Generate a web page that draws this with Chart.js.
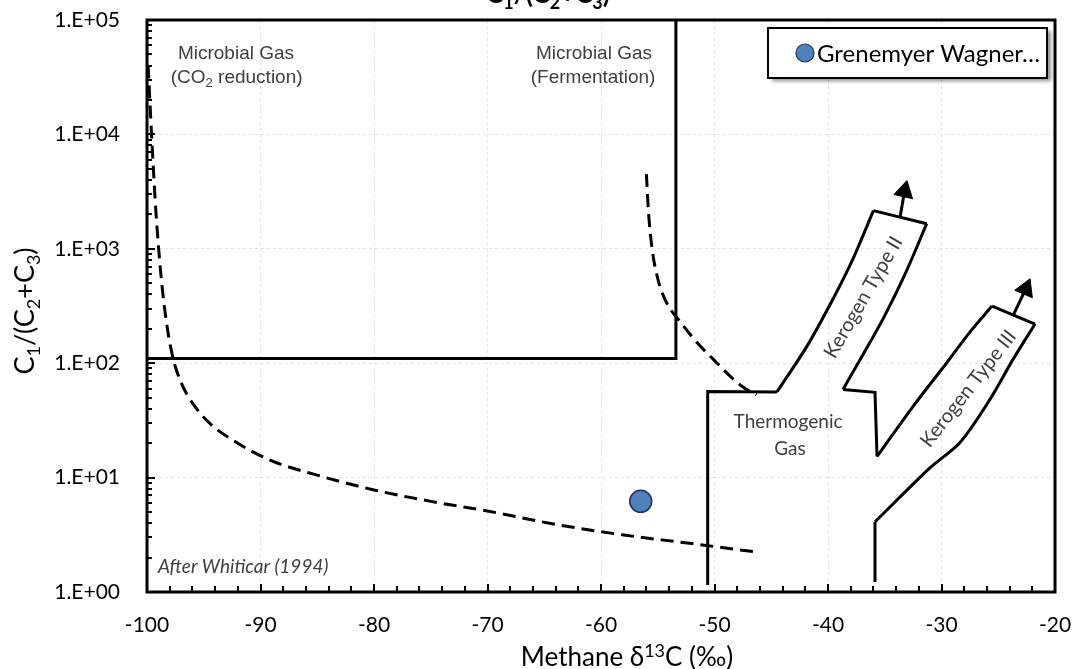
<!DOCTYPE html>
<html>
<head>
<meta charset="utf-8">
<title>Methane δ13C vs C1/(C2+C3)</title>
<script src="https://cdn.jsdelivr.net/npm/chart.js@4.4.1/dist/chart.umd.min.js"></script>
<style>
  html, body { margin: 0; padding: 0; background: #fff; }
  #wrap { width: 1076px; height: 669px; }
</style>
</head>
<body>
<div id="wrap"><canvas id="genChart" width="1076" height="669"></canvas></div>
<script>
// sample point
const sampleLabel = 'Grenemyer Wagner…';
const sampleX = [-56.5];
const sampleY = [6.2];

// axes
const xMin = -100, xMax = -20, xStep = 10;
const yTickValues = [1, 10, 100, 1000, 10000, 100000];
const yTickLabels = ['1.E+00', '1.E+01', '1.E+02', '1.E+03', '1.E+04', '1.E+05'];

// field boundaries, after Whiticar (1994)
const co2BoundX = [-99.9, -99.6, -99.2, -98.7, -98.2, -97.7, -97, -96, -94.5, -92, -89, -85, -80, -75, -70, -64, -58, -52, -46.4];
const co2BoundY = [40000, 10000, 2000, 500, 200, 110, 68, 45, 30, 20, 14, 10.5, 7.8, 6.2, 5.1, 3.9, 3.15, 2.65, 2.24];
const fermBoundX = [-56.0, -55.8, -55.5, -55.0, -54.3, -53.0, -51.5, -50.1, -48.5, -47.5, -46.3];
const fermBoundY = [4500, 2000, 1000, 550, 350, 229, 150, 108, 75, 62, 53];
const microBoxX = [-100, -53.4, -53.4];
const microBoxY = [110, 110, 100000];
const thermoBaseX = [-50.6, -50.6, -44.5];
const thermoBaseY = [1.15, 56.5, 56];
const k2LeftX = [-44.5, -41.85, -39.56, -37.8, -36.0];
const k2LeftY = [56, 141, 364, 817, 2155];
const k2TopX = [-36.0, -31.3];
const k2TopY = [2155, 1657];
const k2RightX = [-31.3, -33.2, -35.07, -37.0, -38.68];
const k2RightY = [1657, 604, 253, 115, 59];
const notchX = [-38.68, -35.86, -35.68];
const notchY = [59, 55.7, 15.3];
const k3LeftX = [-35.68, -32.5, -29.5, -27.5, -25.55];
const k3LeftY = [15.3, 42, 102, 187, 316];
const k3TopX = [-25.55, -21.76];
const k3TopY = [316, 220];
const k3RightX = [-21.76, -23.7, -25.73, -28.37, -31.0, -35.86];
const k3RightY = [220, 108, 48.3, 20.3, 12.2, 4.1];
const k3BaseX = [-35.86, -35.86];
const k3BaseY = [4.1, 1.22];
const k2ArrowX = [-33.65, -33.26];
const k2ArrowY = [1890, 3184];
const k3ArrowX = [-23.66, -22.58];
const k3ArrowY = [264, 446];

// text labels placed in data units
const notes = [
  { text: 'Microbial Gas', x: -92.16, y: 45500, font: 'arial' },
  { text: '(CO|2| reduction)', x: -92.1, y: 28000, font: 'arial' },
  { text: 'Microbial Gas', x: -60.62, y: 45500, font: 'arial' },
  { text: '(Fermentation)', x: -60.7, y: 28000, font: 'arial' },
  { text: 'Thermogenic', x: -43.52, y: 26.9, font: 'cal' },
  { text: 'Gas', x: -43.35, y: 15.9, font: 'cal' },
  { text: 'Kerogen Type II', x: -36.92, y: 379, font: 'cal', rot: -60 },
  { text: 'Kerogen Type III', x: -27.67, y: 60.4, font: 'cal', rot: -52 }
];

const CAL = 'Lato, "Open Sans", sans-serif';
const ARIAL = '"Liberation Sans", Arial, sans-serif';

function pts(xs, ys) {
  return xs.map((x, i) => ({ x: x, y: ys[i] }));
}

function edge(xs, ys, extra) {
  return Object.assign({
    data: pts(xs, ys),
    showLine: true,
    borderColor: '#000',
    borderWidth: 3,
    pointRadius: 0,
    pointHoverRadius: 0,
    tension: 0,
    fill: false
  }, extra || {});
}

function arrow(xs, ys, rot) {
  return edge(xs, ys, {
    pointRadius: [0, 11],
    pointStyle: 'triangle',
    rotation: rot,
    pointBackgroundColor: '#000',
    pointBorderColor: '#000',
    pointBorderWidth: 1
  });
}

// '|' wraps a subscript, '^' wraps a superscript
function richParts(str) {
  const out = [];
  let mode = 0, buf = '';
  for (const ch of str) {
    if (ch === '|' || ch === '^') {
      if (buf) out.push([buf, mode]);
      buf = '';
      const m = ch === '|' ? 1 : -1;
      mode = mode === m ? 0 : m;
    } else buf += ch;
  }
  if (buf) out.push([buf, mode]);
  return out;
}

// centred on x
function drawRich(ctx, str, x, y, size, family, weight) {
  const parts = richParts(str);
  const w = weight || '';
  const small = Math.round(size * 0.68);
  let total = 0;
  parts.forEach(p => {
    ctx.font = w + ' ' + (p[1] ? small : size) + 'px ' + family;
    total += ctx.measureText(p[0]).width;
  });
  let cx = x - total / 2;
  ctx.textAlign = 'left';
  ctx.textBaseline = 'alphabetic';
  parts.forEach(p => {
    ctx.font = w + ' ' + (p[1] ? small : size) + 'px ' + family;
    const dy = p[1] === 1 ? size * 0.22 : (p[1] === -1 ? -size * 0.36 : 0);
    ctx.fillText(p[0], cx, y + dy);
    cx += ctx.measureText(p[0]).width;
  });
}

const decor = {
  id: 'decor',
  afterDatasetsDraw(chart) {
    const ctx = chart.ctx;
    const a = chart.chartArea;
    const xs = chart.scales.x, ys = chart.scales.y;
    ctx.save();

    // notes
    ctx.fillStyle = '#404040';
    notes.forEach(n => {
      const px = xs.getPixelForValue(n.x), py = ys.getPixelForValue(n.y);
      ctx.save();
      ctx.translate(px, py);
      if (n.rot) ctx.rotate(n.rot * Math.PI / 180);
      if (n.font === 'arial') drawRich(ctx, n.text, 0, 0, 19, ARIAL);
      else drawRich(ctx, n.text, 0, n.rot ? 7 : 0, n.rot ? 20 : 19, CAL);
      ctx.restore();
    });
    ctx.font = 'italic 19px ' + CAL;
    ctx.textAlign = 'left';
    ctx.textBaseline = 'alphabetic';
    ctx.fillText('After Whiticar (1994)', a.left + 11, a.bottom - 19);

    // plot frame
    ctx.strokeStyle = '#000';
    ctx.lineWidth = 3;
    ctx.strokeRect(a.left, a.top, a.right - a.left, a.bottom - a.top);

    // inner tick marks
    ctx.lineWidth = 2;
    ctx.beginPath();
    for (let v = xMin; v <= xMax; v += 2) {
      const px = Math.round(xs.getPixelForValue(v));
      const len = v % 10 === 0 ? 8 : 6;
      ctx.moveTo(px, a.bottom);
      ctx.lineTo(px, a.bottom - len);
    }
    for (let d = 1; d < 100000; d *= 10) {
      for (let m = 1; m <= 10; m++) {
        const py = Math.round(ys.getPixelForValue(d * m));
        const len = (m === 1 || m === 10) ? 8 : 5;
        ctx.moveTo(a.left, py);
        ctx.lineTo(a.left + len, py);
      }
    }
    ctx.stroke();

    // legend box
    const ds = chart.data.datasets.filter(d => d.label);
    const bx = a.right - 287, by = a.top + 8, bw = 279, bh = 50;
    ctx.save();
    ctx.shadowColor = 'rgba(0,0,0,0.45)';
    ctx.shadowBlur = 4;
    ctx.shadowOffsetX = 4;
    ctx.shadowOffsetY = 3;
    ctx.fillStyle = '#fff';
    ctx.fillRect(bx, by, bw, bh);
    ctx.restore();
    ctx.lineWidth = 2;
    ctx.strokeRect(bx, by, bw, bh);
    ds.forEach((d, i) => {
      const cy = by + 25 + i * 30;
      ctx.beginPath();
      ctx.arc(bx + 37, cy, 9, 0, Math.PI * 2);
      ctx.fillStyle = d.backgroundColor;
      ctx.fill();
      ctx.lineWidth = 1.2;
      ctx.strokeStyle = d.borderColor;
      ctx.stroke();
      ctx.fillStyle = '#000';
      ctx.font = '24px ' + CAL;
      ctx.textAlign = 'left';
      ctx.textBaseline = 'middle';
      ctx.fillText(d.label, bx + 49, cy + 1);
    });

    // titles
    ctx.fillStyle = '#000';
    drawRich(ctx, 'C|1|/(C|2|+C|3|)', 548, 3, 26, CAL, 'bold');
    drawRich(ctx, 'Methane δ^13^C (‰)', 627, 666, 26, CAL);
    ctx.save();
    ctx.translate(34, 311);
    ctx.rotate(-Math.PI / 2);
    drawRich(ctx, 'C|1|/(C|2|+C|3|)', 0, 0, 27, CAL);
    ctx.restore();

    ctx.restore();
  }
};

const gridStyle = {
  color: '#e3e3e3',
  lineWidth: 1,
  drawTicks: false
};

// no extra room for overhanging tick labels
function noPad(s) {
  s.paddingTop = 0;
  s.paddingBottom = 0;
  s.paddingLeft = 0;
  s.paddingRight = 0;
}

new Chart(document.getElementById('genChart'), {
  type: 'scatter',
  data: {
    datasets: [
      edge(co2BoundX, co2BoundY, { borderDash: [13, 7], cubicInterpolationMode: 'monotone' }),
      edge(fermBoundX, fermBoundY, { borderDash: [13, 7], cubicInterpolationMode: 'monotone' }),
      edge(microBoxX, microBoxY),
      edge(thermoBaseX, thermoBaseY),
      edge(k2LeftX, k2LeftY, { tension: 0.3 }),
      edge(k2TopX, k2TopY),
      edge(k2RightX, k2RightY, { tension: 0.3 }),
      edge(notchX, notchY),
      edge(k3LeftX, k3LeftY, { tension: 0.3 }),
      edge(k3TopX, k3TopY),
      edge(k3RightX, k3RightY, { tension: 0.3 }),
      edge(k3BaseX, k3BaseY),
      arrow(k2ArrowX, k2ArrowY, 13),
      arrow(k3ArrowX, k3ArrowY, 23),
      {
        label: sampleLabel,
        data: pts(sampleX, sampleY),
        pointRadius: 11,
        pointHoverRadius: 11,
        backgroundColor: '#4F81BD',
        borderColor: '#1f3556',
        borderWidth: 1.5
      }
    ]
  },
  options: {
    responsive: false,
    animation: false,
    layout: { padding: { top: 20, right: 21, left: 0, bottom: 0 } },
    plugins: {
      legend: { display: false },
      tooltip: { enabled: false }
    },
    scales: {
      x: {
        type: 'linear',
        min: xMin,
        max: xMax,
        ticks: {
          stepSize: xStep,
          color: '#000',
          padding: 21,
          font: { family: CAL, size: 21 }
        },
        grid: gridStyle,
        border: { display: false, dash: [3, 3] },
        afterFit: s => { s.height = 77; noPad(s); }
      },
      y: {
        type: 'logarithmic',
        min: 1,
        max: 100000,
        afterBuildTicks: s => { s.ticks = yTickValues.map(v => ({ value: v })); },
        ticks: {
          autoSkip: false,
          color: '#000',
          padding: 27,
          font: { family: CAL, size: 21 },
          callback: (v, i) => yTickLabels[i]
        },
        grid: gridStyle,
        border: { display: false, dash: [3, 3] },
        afterFit: s => { s.width = 147; noPad(s); }
      }
    }
  },
  plugins: [decor]
});
</script>
</body>
</html>
